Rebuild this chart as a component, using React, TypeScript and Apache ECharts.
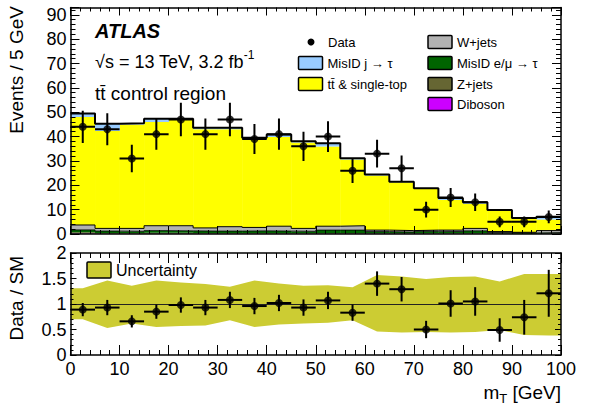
import React, { useEffect, useRef } from "react";
import * as echarts from "echarts";

// ---------- data ----------
const binEdges = [0, 5, 10, 15, 20, 25, 30, 35, 40, 45, 50, 55, 60, 65, 70, 75, 80, 85, 90, 95, 100];
const dataEvents = [44, 43, 31, 41, 47, 41, 47, 39, 41, 36, 40, 26, 33, 27, 10, 15, 13, 5, 5, 7];
const dataErrors = [6.6, 6.6, 5.6, 6.4, 6.9, 6.4, 6.9, 6.2, 6.4, 6.0, 6.3, 5.1, 5.7, 5.2, 3.2, 3.9, 3.6, 2.2, 2.2, 2.6];
const misIdJetTau = [1.5, 3.0, 0.5, 1.3, 0.5, 0.6, 0.6, 0.7, 1.1, 0.5, 1.4, 0.5, 0.4, 0.3, 0.3, 0.8, 0.6, 0.3, 0.3, 1.1];
const ttbarSingleTop = [44.3, 40.0, 42.7, 42.6, 43.4, 40.5, 40.0, 36.1, 36.6, 35.3, 32.7, 27.2, 22.4, 19.8, 16.9, 12.4, 10.1, 8.6, 5.6, 4.6];
const wJets = [2.0, 1.1, 1.2, 2.0, 2.1, 1.3, 1.8, 1.4, 2.0, 1.2, 1.6, 1.8, 0.6, 0.6, 0.5, 0.6, 1.0, 0.4, 0.3, 0.8];
const misIdLepTau = [1.0, 0.8, 0.7, 0.9, 0.8, 0.8, 0.8, 0.9, 0.8, 0.7, 1.2, 1.2, 0.7, 0.5, 0.8, 0.7, 1.0, 0.4, 0.3, 0.4];
const zJets = [0.5, 0.3, 0.3, 0.4, 0.4, 0.3, 0.3, 0.3, 0.3, 0.3, 0.3, 0.3, 0.2, 0.2, 0.2, 0.2, 0.2, 0.1, 0.1, 0.1];
const diboson = [0.2, 0.1, 0.1, 0.1, 0.1, 0.1, 0.1, 0.1, 0.1, 0.1, 0.1, 0.1, 0.1, 0.1, 0.1, 0.1, 0.1, 0.1, 0.0, 0.1];

const ratioValues = [0.89, 0.93, 0.66, 0.85, 0.98, 0.93, 1.08, 0.96, 1.02, 0.93, 1.07, 0.83, 1.4, 1.29, 0.5, 1.01, 1.05, 0.49, 0.74, 1.21];
const ratioErrors = [0.13, 0.15, 0.12, 0.14, 0.15, 0.15, 0.16, 0.16, 0.16, 0.16, 0.17, 0.16, 0.24, 0.24, 0.17, 0.26, 0.28, 0.23, 0.34, 0.46];
const bandUpper = [1.31, 1.46, 1.36, 1.46, 1.42, 1.39, 1.34, 1.46, 1.4, 1.36, 1.37, 1.33, 1.57, 1.54, 1.49, 1.53, 1.54, 1.44, 1.59, 1.59];
const bandLower = [0.7, 0.53, 0.62, 0.55, 0.57, 0.58, 0.68, 0.55, 0.6, 0.62, 0.63, 0.68, 0.46, 0.44, 0.45, 0.44, 0.45, 0.49, 0.39, 0.38];

const xRange = [0, 100];
const eventsRange = [0, 93];
const ratioRange = [0, 2];

// ---------- helpers ----------
const F = '"Liberation Sans", Arial, Helvetica, sans-serif';
const nBins = dataEvents.length;
const binLo = binEdges.slice(0, nBins);
const binHi = binEdges.slice(1);
const binCenter = binLo.map((l, i) => (l + binHi[i]) / 2);
const binHalf = binLo.map((l, i) => (binHi[i] - l) / 2);

const stackOrder = [
  { name: "Diboson", values: diboson, color: "#cc00ff" },
  { name: "Z+jets", values: zJets, color: "#666633" },
  { name: "MisID e/μ → τ", values: misIdLepTau, color: "#006400" },
  { name: "W+jets", values: wJets, color: "#b2b2b2" },
  { name: "tt̄ & single-top", values: ttbarSingleTop, color: "#ffff00" },
  { name: "MisID j → τ", values: misIdJetTau, color: "#99ccff" },
];

function rectSeries(name: string, color: string, bases: number[], values: number[]) {
  return {
    type: "custom",
    name,
    xAxisIndex: 0,
    yAxisIndex: 0,
    z: 1,
    clip: true,
    silent: true,
    data: values.map((v, i) => [binLo[i], binHi[i], bases[i], bases[i] + v]),
    encode: { x: [0, 1], y: [2, 3] },
    renderItem: (params: any, api: any) => {
      const p0 = api.coord([api.value(0), api.value(2)]);
      const p1 = api.coord([api.value(1), api.value(3)]);
      return {
        type: "rect",
        shape: { x: p0[0], y: p1[1], width: p1[0] - p0[0] + 0.4, height: p0[1] - p1[1] },
        style: { fill: color, stroke: null },
      };
    },
  };
}

function stepData(values: number[]) {
  const pts = values.map((v, i) => [binLo[i], v]);
  pts.push([binHi[nBins - 1], values[nBins - 1]]);
  return pts;
}

function stepLine(values: number[], width: number) {
  return {
    type: "line",
    xAxisIndex: 0,
    yAxisIndex: 0,
    z: 2,
    silent: true,
    step: "end",
    symbol: "none",
    data: stepData(values),
    lineStyle: { color: "#000", width },
  };
}

function errorSeries(xi: number, yi: number, vals: number[], errs: number[]) {
  return {
    type: "custom",
    xAxisIndex: xi,
    yAxisIndex: yi,
    z: 3,
    silent: true,
    clip: true,
    data: vals.map((v, i) => [binCenter[i], v, errs[i], binHalf[i]]),
    encode: { x: 0, y: 1 },
    renderItem: (params: any, api: any) => {
      const x = api.value(0), y = api.value(1), e = api.value(2), hw = api.value(3);
      const l = api.coord([x - hw, y]);
      const r = api.coord([x + hw, y]);
      const t = api.coord([x, y + e]);
      const b = api.coord([x, y - e]);
      return {
        type: "group",
        children: [
          { type: "line", shape: { x1: l[0], y1: l[1], x2: r[0], y2: r[1] }, style: { stroke: "#000", lineWidth: 2 } },
          { type: "line", shape: { x1: t[0], y1: t[1], x2: b[0], y2: b[1] }, style: { stroke: "#000", lineWidth: 2 } },
        ],
      };
    },
  };
}

function pointSeries(xi: number, yi: number, vals: number[]) {
  return {
    type: "scatter",
    xAxisIndex: xi,
    yAxisIndex: yi,
    z: 4,
    silent: true,
    symbol: "circle",
    symbolSize: 8,
    itemStyle: { color: "#000" },
    data: vals.map((v, i) => [binCenter[i], v]),
  };
}

const axisLine = { show: true, onZero: false, lineStyle: { color: "#000", width: 1.5 } };

function xAxis(gridIndex: number, position: string, labels: boolean, major: number, minor: number) {
  return {
    type: "value",
    gridIndex,
    position,
    min: xRange[0],
    max: xRange[1],
    interval: 10,
    z: 10,
    axisLine,
    splitLine: { show: false },
    axisTick: { show: true, inside: true, length: major, lineStyle: { color: "#000", width: 1 } },
    minorTick: { show: true, splitNumber: 5, length: minor, lineStyle: { color: "#000", width: 1 } },
    axisLabel: labels
      ? { show: true, color: "#000", fontSize: 18, fontFamily: F, margin: 5 }
      : { show: false },
  };
}

function yAxis(gridIndex: number, position: string, labels: boolean, range: number[], interval: number, major: number, minor: number) {
  return {
    type: "value",
    gridIndex,
    position,
    min: range[0],
    max: range[1],
    interval,
    z: 10,
    axisLine,
    splitLine: { show: false },
    axisTick: { show: true, inside: true, length: major, lineStyle: { color: "#000", width: 1 } },
    minorTick: { show: true, splitNumber: 5, length: minor, lineStyle: { color: "#000", width: 1 } },
    axisLabel: labels
      ? {
          show: true,
          color: "#000",
          fontSize: 18,
          lineHeight: 14,
          fontFamily: F,
          margin: 4,
          showMaxLabel: range[1] % interval === 0,
        }
      : { show: false },
  };
}

function legendBox(x: number, y: number, color: string, label: string) {
  return [
    {
      type: "rect",
      shape: { x, y: y - 6.5, width: 24, height: 13, r: 1 },
      style: { fill: color, stroke: "#000", lineWidth: 1.5 },
    },
    {
      type: "text",
      x: x + 29,
      y,
      style: { text: label, font: `13px ${F}`, fill: "#000", verticalAlign: "middle" },
    },
  ];
}

export default function App() {
  const ref = useRef<HTMLDivElement>(null);

  useEffect(() => {
    if (!ref.current) return;
    const chart = echarts.init(ref.current, null, { renderer: "svg" });

    // cumulative bases for the stacked histogram
    const bases: number[][] = [];
    let cum = new Array(nBins).fill(0);
    stackOrder.forEach((c) => {
      bases.push(cum.slice());
      cum = cum.map((v, i) => v + c.values[i]);
    });
    const totalMC = cum;
    const wTop = bases[4]; // top of W+jets = base of ttbar
    const lepTop = bases[3];

    const bandX = [xRange[0], ...binCenter, xRange[1]];
    const bandHi = [bandUpper[0], ...bandUpper, bandUpper[nBins - 1]];
    const bandLo = [bandLower[0], ...bandLower, bandLower[nBins - 1]];

    const bandSeries = {
      type: "custom",
      xAxisIndex: 2,
      yAxisIndex: 2,
      z: 1,
      silent: true,
      clip: true,
      data: bandX.map((x, i) => [x, bandLo[i], bandHi[i]]),
      encode: { x: 0, y: [1, 2] },
      renderItem: (params: any, api: any) => {
        if (params.dataIndex !== 0) return null;
        const upper = bandX.map((x, i) => api.coord([x, bandHi[i]]));
        const lower = bandX.map((x, i) => api.coord([x, bandLo[i]])).reverse();
        return {
          type: "polygon",
          shape: { points: [...upper, ...lower] },
          style: { fill: "#cccc33", stroke: null },
        };
      },
      markLine: {
        silent: true,
        symbol: ["none", "none"],
        label: { show: false },
        lineStyle: { color: "#222", width: 1, type: "solid" },
        data: [{ yAxis: 1 }],
        z: 2,
      },
    };

    const graphics: any[] = [
      {
        type: "text",
        x: 95,
        y: 31,
        style: { text: "ATLAS", font: `italic bold 20px ${F}`, fill: "#000", verticalAlign: "middle" },
      },
      {
        type: "text",
        x: 95,
        y: 62,
        style: {
          text: "{b|√s = 13 TeV, 3.2 fb}{s|-1}",
          fill: "#000",
          verticalAlign: "middle",
          rich: {
            b: { fontSize: 18, fontFamily: F, lineHeight: 26, fill: "#000" },
            s: { fontSize: 12, fontFamily: F, lineHeight: 12, verticalAlign: "top", fill: "#000" },
          },
        },
      },
      {
        type: "text",
        x: 95,
        y: 93,
        style: { text: "tt̄ control region", font: `19px ${F}`, fill: "#000", verticalAlign: "middle" },
      },
      { type: "circle", shape: { cx: 311, cy: 42, r: 3.5 }, style: { fill: "#000" } },
      {
        type: "text",
        x: 328,
        y: 42,
        style: { text: "Data", font: `13px ${F}`, fill: "#000", verticalAlign: "middle" },
      },
      ...legendBox(298.5, 63, "#99ccff", "MisID j → τ"),
      ...legendBox(298.5, 84, "#ffff00", "tt̄ & single-top"),
      ...legendBox(428, 42, "#b2b2b2", "W+jets"),
      ...legendBox(428, 63, "#006400", "MisID e/μ → τ"),
      ...legendBox(428, 84, "#666633", "Z+jets"),
      ...legendBox(428, 104, "#cc00ff", "Diboson"),
      {
        type: "rect",
        shape: { x: 87, y: 262, width: 24, height: 16, r: 1 },
        style: { fill: "#cccc33", stroke: "#000", lineWidth: 1.5 },
      },
      {
        type: "text",
        x: 116,
        y: 270,
        style: { text: "Uncertainty", font: `16px ${F}`, fill: "#000", verticalAlign: "middle" },
      },
      {
        type: "text",
        x: 16,
        y: 6,
        rotation: Math.PI / 2,
        style: { text: "Events / 5 GeV", font: `19px ${F}`, fill: "#000", align: "right", verticalAlign: "middle" },
      },
      {
        type: "text",
        x: 16,
        y: 256,
        rotation: Math.PI / 2,
        style: { text: "Data / SM", font: `19px ${F}`, fill: "#000", align: "right", verticalAlign: "middle" },
      },
      {
        type: "text",
        x: 561,
        y: 392,
        style: {
          text: "{b|m}{s|T}{b| [GeV]}",
          align: "right",
          verticalAlign: "middle",
          fill: "#000",
          rich: {
            b: { fontSize: 19, fontFamily: F, lineHeight: 26, fill: "#000" },
            s: { fontSize: 13, fontFamily: F, lineHeight: 12, verticalAlign: "bottom", fill: "#000" },
          },
        },
      },
    ];

    const option = {
      animation: false,
      backgroundColor: "#fff",
      grid: [
        { left: 70.5, right: 35, top: 7.5, height: 226.5 },
        { left: 70.5, right: 35, top: 253, height: 102 },
      ],
      xAxis: [
        xAxis(0, "bottom", false, 8, 4),
        xAxis(0, "top", false, 8, 4),
        xAxis(1, "bottom", true, 10, 5),
        xAxis(1, "top", false, 10, 5),
      ],
      yAxis: [
        yAxis(0, "left", true, eventsRange, 10, 9, 5),
        yAxis(0, "right", false, eventsRange, 10, 9, 5),
        yAxis(1, "left", true, ratioRange, 0.5, 6, 3),
        yAxis(1, "right", false, ratioRange, 0.5, 6, 3),
      ],
      series: [
        ...stackOrder.map((c, k) => rectSeries(c.name, c.color, bases[k], c.values)),
        stepLine(lepTop, 0.8),
        stepLine(wTop, 1),
        stepLine(totalMC, 2),
        errorSeries(0, 0, dataEvents, dataErrors),
        { ...pointSeries(0, 0, dataEvents), name: "Data" },
        bandSeries,
        errorSeries(2, 2, ratioValues, ratioErrors),
        pointSeries(2, 2, ratioValues),
      ],
      graphic: graphics,
    };

    chart.setOption(option as any);
    return () => chart.dispose();
  }, []);

  return (
    <div
      ref={ref}
      style={{ position: "fixed", left: 0, top: 0, width: 596, height: 405, background: "#fff" }}
    />
  );
}
